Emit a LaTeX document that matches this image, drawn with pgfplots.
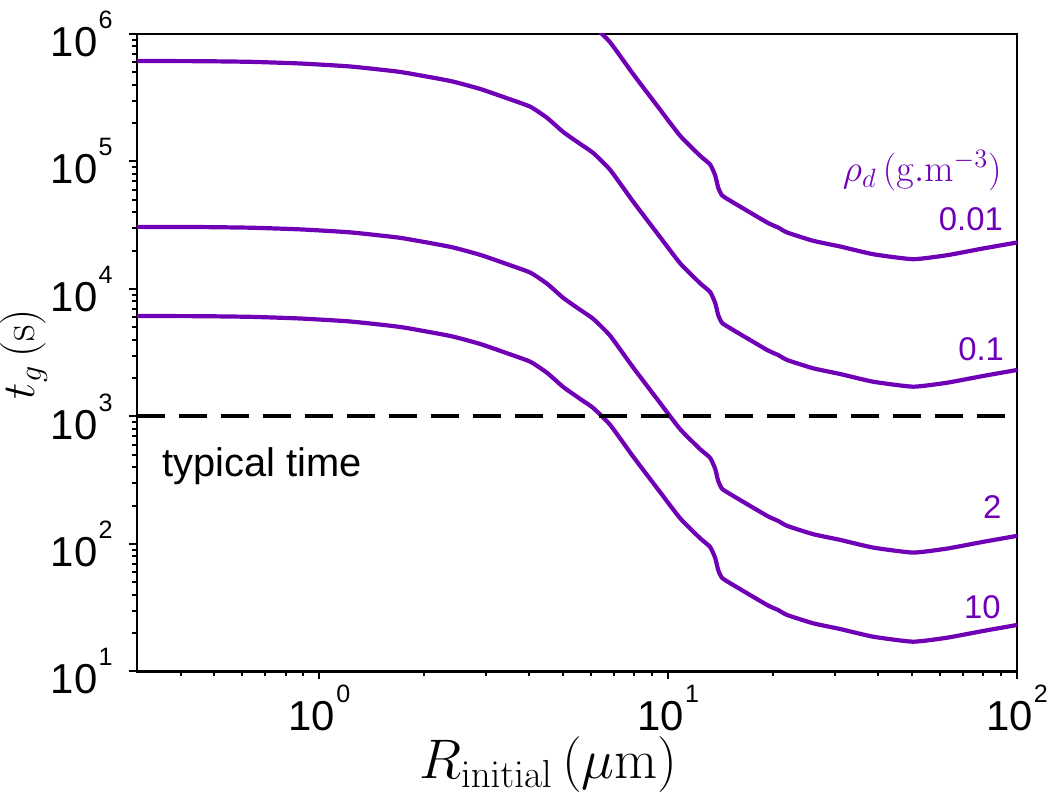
\RequirePackage{fix-cm}
\documentclass[border=0pt]{standalone}
\usepackage[no-math]{fontspec}
\setmainfont{Liberation Sans}
\usepackage{pgfplots}
\pgfplotsset{compat=1.18}
\usepackage{pgfplotstable}
\definecolor{curve}{RGB}{112,0,182}
\newcommand{\tl}[1]{10\kern0.6bp\raisebox{14bp}{\fontsize{12.6}{14}\selectfont #1}}

% rho_d = 0.1
\pgfplotstableread{
x t
0.3 614000
0.456 612000
0.634 605000
0.882 587000
1.227 556000
1.707 503500
2.374 428000
2.893 370400
3.435 314800
4.023 269000
4.501 219400
5.002 170300
5.596 137200
6.097 116600
6.822 85770
7.94 48380
9.30 27350
10.82 15910
12.35 11080
13.19 9474
13.64 7768
13.91 6254
14.28 5412
15.36 4769
19.22 3323
20.66 3036
21.93 2774
26.04 2388
31.11 2154
38.68 1875
50.35 1713
63.02 1841
79.90 2078
100 2316
}\tOne

% rho_d = 2
\pgfplotstableread{
x t
0.3 30700
0.456 30600
0.634 30250
0.882 29350
1.227 27800
1.707 25175
2.374 21400
2.893 18520
3.435 15740
4.023 13450
4.501 10970
5.002 8515
5.596 6860
6.097 5830
6.822 4288.5
7.94 2419
9.30 1367.5
10.82 795.5
12.35 554
13.19 473.7
13.64 388.4
13.91 312.7
14.28 270.6
15.36 238.45
19.22 166.15
20.66 151.8
21.93 138.7
26.04 119.4
31.11 107.7
38.68 93.75
50.35 85.65
63.02 92.05
79.90 103.9
100 115.8
}\tTwo

% rho_d = 10
\pgfplotstableread{
x t
0.3 6140
0.456 6120
0.634 6050
0.882 5870
1.227 5560
1.707 5035
2.374 4280
2.893 3704
3.435 3148
4.023 2690
4.501 2194
5.002 1703
5.596 1372
6.097 1166
6.822 857.7
7.94 483.8
9.30 273.5
10.82 159.1
12.35 110.8
13.19 94.74
13.64 77.68
13.91 62.54
14.28 54.12
15.36 47.69
19.22 33.23
20.66 30.36
21.93 27.74
26.04 23.88
31.11 21.54
38.68 18.75
50.35 17.13
63.02 18.41
79.90 20.78
100 23.16
}\tTen

% rho_d = 0.01
\pgfplotstableread{
x t
5.002 1703000
5.596 1372000
6.097 1166000
6.822 857700
7.94 483800
9.30 273500
10.82 159100
12.35 110800
13.19 94740
13.64 77680
13.91 62540
14.28 54120
15.36 47690
19.22 33230
20.66 30360
21.93 27740
26.04 23880
31.11 21540
38.68 18750
50.35 17130
63.02 18410
79.90 20780
100 23160
}\tHund

\begin{document}
\begin{tikzpicture}
\useasboundingbox (-68.5bp,-60.75bp) rectangle (461.5bp,335.75bp);
\begin{axis}[
  xmode=log, ymode=log,
  scale only axis, width=440bp, height=318.75bp,
  xmin=0.3, xmax=100, ymin=10, ymax=1e6,
  axis line style={line width=1.2bp},
  tick align=outside,
  xtick pos=bottom, ytick pos=left,
  major tick length=4bp, minor tick length=2.5bp,
  every tick/.style={black, line width=1bp},
  xtick={1,10,100},
  xticklabels={\tl{0},\tl{1},\tl{2}},
  minor xtick={0.4,0.5,0.6,0.7,0.8,0.9,2,3,4,5,6,7,8,9,20,30,40,50,60,70,80,90},
  ytick={10,100,1000,10000,100000,1000000},
  yticklabels={\tl{1},\tl{2},\tl{3},\tl{4},\tl{5},\tl{6}},
  minor ytick={20,30,40,50,60,70,80,90,200,300,400,500,600,700,800,900,2000,3000,4000,5000,6000,7000,8000,9000,20000,30000,40000,50000,60000,70000,80000,90000,200000,300000,400000,500000,600000,700000,800000,900000},
  ticklabel style={font=\fontsize{21}{24}\selectfont, inner sep=0pt},
  xticklabel style={yshift=-2.5bp},
  yticklabel style={xshift=-8bp},
  xlabel={$R_{\mathrm{initial}}\,(\mu\mathrm{m})$},
  ylabel={$t_g\,(\mathrm{s})$},
  xlabel style={font=\fontsize{28}{33}\selectfont, at={(axis description cs:0.4676,-0.1465)}, anchor=center},
  ylabel style={font=\fontsize{23}{27}\selectfont, at={(axis description cs:-0.1290,0.498)}, anchor=center},
  clip=true,
]
\addplot[curve, line width=2.1bp, smooth, tension=0.3] table[x=x,y=t] {\tHund};
\addplot[curve, line width=2.1bp, smooth, tension=0.3] table[x=x,y=t] {\tOne};
\addplot[curve, line width=2.1bp, smooth, tension=0.3] table[x=x,y=t] {\tTwo};
\addplot[curve, line width=2.1bp, smooth, tension=0.3] table[x=x,y=t] {\tTen};
\addplot[black, line width=2bp, dash pattern=on 14bp off 7bp] coordinates {(0.3,1000) (100,1000)};

\node[anchor=base east, inner sep=0, text=curve, font=\fontsize{19}{23}\selectfont] at (axis cs:90.6,69500) {$\rho_d\,(\mathrm{g.m^{-3}})$};
\node[anchor=base east, inner sep=0, text=curve, font=\fontsize{16.5}{20}\selectfont] at (axis cs:91.3,28650) {0.01};
\node[anchor=base east, inner sep=0, text=curve, font=\fontsize{16.5}{20}\selectfont] at (axis cs:92,2773) {0.1};
\node[anchor=base east, inner sep=0, text=curve, font=\fontsize{16.5}{20}\selectfont] at (axis cs:90.4,159) {2};
\node[anchor=base east, inner sep=0, text=curve, font=\fontsize{16.5}{20}\selectfont] at (axis cs:90,26.1) {10};
\node[anchor=base west, inner sep=0, text=black, font=\fontsize{20}{24}\selectfont] at (axis cs:0.354,337) {typical time};
\end{axis}
\end{tikzpicture}
\end{document}
